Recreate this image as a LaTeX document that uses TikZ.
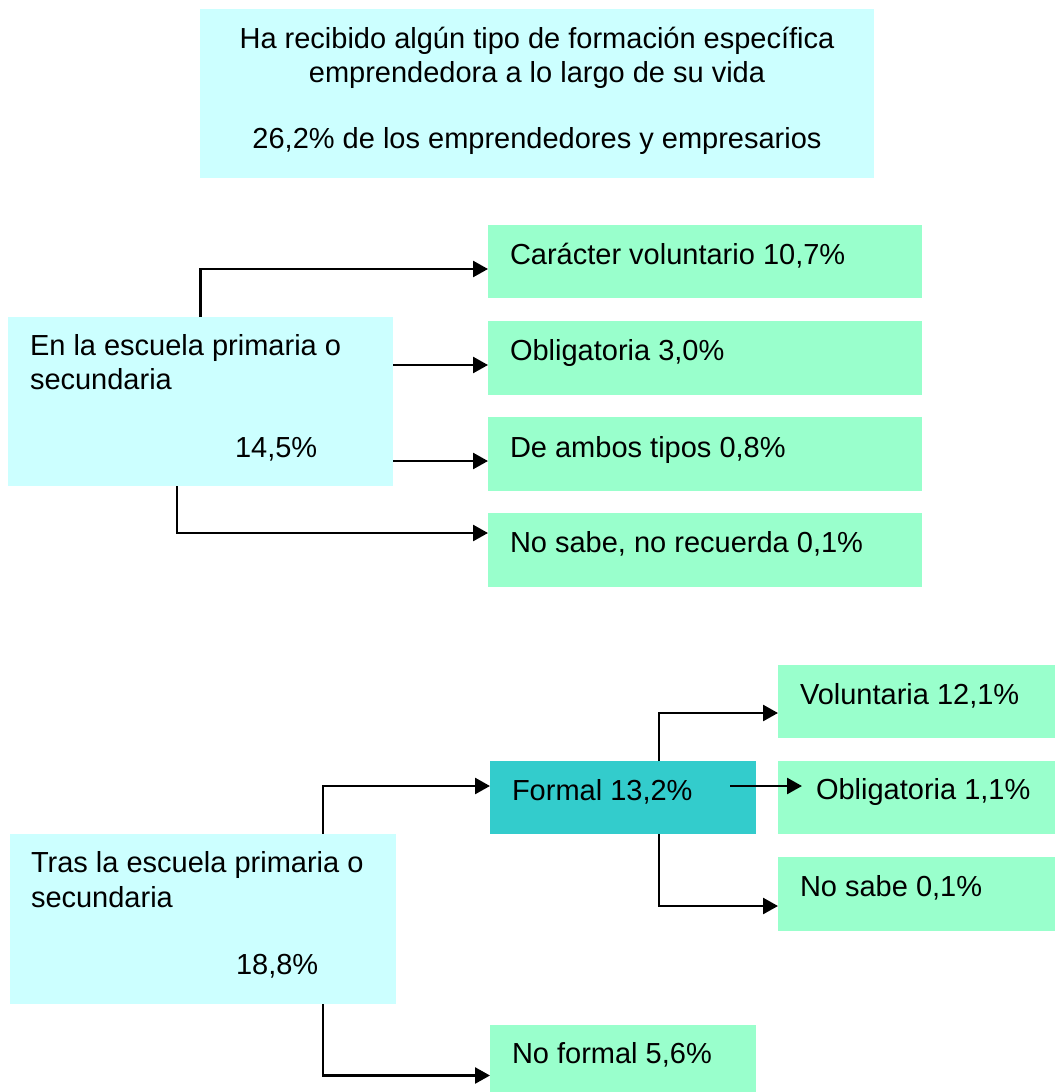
\documentclass[tikz,border=0pt]{standalone}
\usepackage{fontspec}
\setmainfont{Liberation Sans}
\usetikzlibrary{arrows.meta,calc}
\definecolor{lcyan}{HTML}{CCFFFF}
\definecolor{lgreen}{HTML}{99FFCC}
\definecolor{teal}{HTML}{33CCCC}
\begin{document}
\begin{tikzpicture}[x=1pt,y=-1pt,
  box/.style={draw=none,rectangle,inner sep=0,outer sep=0,anchor=north west},
  txt/.style={inner sep=0,outer sep=0,anchor=base west,font=\fontsize{29}{34}\selectfont},
  ctxt/.style={txt,anchor=base},
  arr/.style={line width=2.6pt,-{Triangle[length=15pt,width=16pt]}}]
\useasboundingbox (0,0) rectangle (1055,1092);
% boxes
\node[box,fill=lcyan,minimum width=674pt,minimum height=169pt] (top) at (200,9) {};
\node[box,fill=lcyan,minimum width=385pt,minimum height=169pt] (b1) at (8,317) {};
\node[box,fill=lgreen,minimum width=434pt,minimum height=73pt] (g1) at (488,225) {};
\node[box,fill=lgreen,minimum width=434pt,minimum height=74pt] (g2) at (488,321) {};
\node[box,fill=lgreen,minimum width=434pt,minimum height=74pt] (g3) at (488,417) {};
\node[box,fill=lgreen,minimum width=434pt,minimum height=74pt] (g4) at (488,513) {};
\node[box,fill=lcyan,minimum width=386pt,minimum height=170pt] (b2) at (10,834) {};
\node[box,fill=teal,minimum width=266pt,minimum height=73pt] (f) at (490,761) {};
\node[box,fill=lgreen,minimum width=277pt,minimum height=73pt] (v) at (778,665) {};
\node[box,fill=lgreen,minimum width=277pt,minimum height=73pt] (o) at (778,761) {};
\node[box,fill=lgreen,minimum width=277pt,minimum height=74pt] (n) at (778,857) {};
\node[box,fill=lgreen,minimum width=266pt,minimum height=67pt] (nf) at (490,1025) {};
% texts
\node[ctxt] (t1) at (537,48) {Ha recibido algún tipo de formación específica};
\node[ctxt] (t2) at (537,82) {emprendedora a lo largo de su vida};
\node[ctxt] (t3) at (537,148) {26,2\% de los emprendedores y empresarios};
\node[txt] (tb1a) at (30,355) {En la escuela primaria o};
\node[txt] (tb1b) at (30,389) {secundaria};
\node[txt] (tb1c) at (235,457) {14,5\%};
\node[txt] (tg1) at (510,264) {Carácter voluntario 10,7\%};
\node[txt] (tg2) at (510,360) {Obligatoria 3,0\%};
\node[txt] (tg3) at (510,457) {De ambos tipos 0,8\%};
\node[txt] (tg4) at (510,552) {No sabe, no recuerda 0,1\%};
\node[txt] (tb2a) at (31,872) {Tras la escuela primaria o};
\node[txt] (tb2b) at (31,907) {secundaria};
\node[txt] (tb2c) at (236,974) {18,8\%};
\node[txt] (tf) at (512,800) {Formal 13,2\%};
\node[txt] (tv) at (800,704) {Voluntaria 12,1\%};
\node[txt] (to) at (816,799) {Obligatoria 1,1\%};
\node[txt] (tn) at (800,896) {No sabe 0,1\%};
\node[txt] (tnf) at (512,1063) {No formal 5,6\%};
% connector coordinates
\coordinate (e1) at ($(g1.west)+(0,7.5)$);
\coordinate (e2) at ($(g2.west)+(0,7)$);
\coordinate (e3) at ($(g3.west)+(0,7)$);
\coordinate (e4) at ($(g4.west)+(0,-17)$);
\coordinate (s4) at ($(b1.south)+(-23.5,0)$);
\coordinate (s5) at ($(b2.north)+(120,0)$);
\coordinate (e5) at ($(f.west)+(0,-11.5)$);
\coordinate (s6) at ($(b2.south)+(120,0)$);
\coordinate (e6) at ($(nf.west)+(0,17)$);
\coordinate (s7) at ($(f.north)+(36,0)$);
\coordinate (e7) at ($(v.west)+(0,11.5)$);
\coordinate (s8) at ($(f.south)+(36,0)$);
\coordinate (e8) at ($(n.west)+(0,12)$);
\coordinate (s9) at ($(f.east)+(-26,-11.5)$);
\coordinate (e9) at ($(o.west)+(24,-11.5)$);
% connectors
\draw[arr] (b1.north) |- (e1);
\draw[arr] (b1.east |- e2) -- (e2);
\draw[arr] (b1.east |- e3) -- (e3);
\draw[arr] (s4) |- (e4);
\draw[arr] (s5) |- (e5);
\draw[arr] (s6) |- (e6);
\draw[arr] (s7) |- (e7);
\draw[arr] (s8) |- (e8);
\draw[arr] (s9) -- (e9);
\end{tikzpicture}
\end{document}
